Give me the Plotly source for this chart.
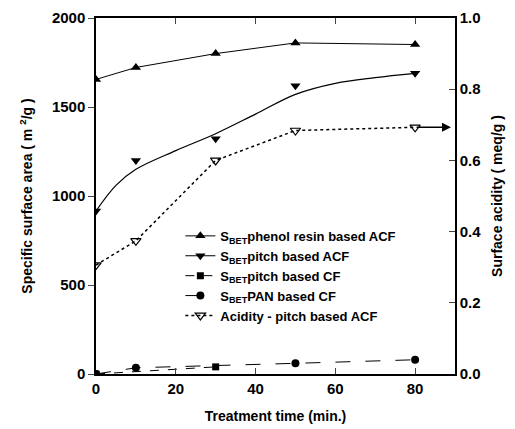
import plotly.graph_objects as go

# Data
phenol_x = [0, 10, 30, 50, 80]
phenol_y = [1655, 1722, 1800, 1860, 1851]

pitch_acf_x = [0, 10, 30, 50, 80]
pitch_acf_y = [916, 1199, 1322, 1620, 1689]
pitch_acf_fit_x = [0, 5, 10, 20, 30, 40, 50, 60, 70, 80]
pitch_acf_fit_y = [916, 1060, 1150, 1255, 1350, 1460, 1571, 1633, 1665, 1689]

pitch_cf_x = [0, 30]
pitch_cf_y = [0, 40]

pan_cf_x = [0, 10, 50, 80]
pan_cf_y = [0, 35, 60, 80]

acid_x = [0, 10, 30, 50, 80]
acid_y = [0.306, 0.374, 0.600, 0.684, 0.693]

x_ticks = [0, 20, 40, 60, 80]
y_ticks = [0, 500, 1000, 1500, 2000]
y2_ticks = [0.0, 0.2, 0.4, 0.6, 0.8, 1.0]
y2_labels = ["0.0", "0.2", "0.4", "0.6", "0.8", "1.0"]

FONT = "Liberation Sans, Arial, sans-serif"
BLACK = "black"

def b(s):
    return "<b>" + s + "</b>"

fig = go.Figure()

fig.add_trace(go.Scatter(
    x=phenol_x, y=phenol_y, mode="lines+markers",
    line=dict(color=BLACK, width=1),
    marker=dict(symbol="triangle-up", size=9, color=BLACK),
    name=b("S<sub>BET</sub>phenol resin based ACF")))

# pitch ACF: smooth fit line + markers
fig.add_trace(go.Scatter(
    x=pitch_acf_fit_x, y=pitch_acf_fit_y, mode="lines",
    line=dict(color=BLACK, width=1.2, shape="spline", smoothing=1.0), showlegend=False,
    hoverinfo="skip"))
fig.add_trace(go.Scatter(
    x=pitch_acf_x, y=pitch_acf_y, mode="markers",
    marker=dict(symbol="triangle-down", size=9, color=BLACK),
    showlegend=False))
fig.add_trace(go.Scatter(
    x=[None], y=[None], mode="lines+markers",
    line=dict(color=BLACK, width=1.2),
    marker=dict(symbol="triangle-down", size=9, color=BLACK),
    name=b("S<sub>BET</sub>pitch based ACF")))

fig.add_trace(go.Scatter(
    x=pitch_cf_x, y=pitch_cf_y, mode="lines+markers",
    line=dict(color=BLACK, width=1, dash="dash"),
    marker=dict(symbol="square", size=7, color=BLACK),
    name=b("S<sub>BET</sub>pitch based CF")))

fig.add_trace(go.Scatter(
    x=pan_cf_x, y=pan_cf_y, mode="lines+markers",
    line=dict(color=BLACK, width=1, dash="longdash"),
    marker=dict(symbol="circle", size=8, color=BLACK),
    name=b("S<sub>BET</sub>PAN based CF")))

fig.add_trace(go.Scatter(
    x=acid_x, y=acid_y, mode="lines+markers", yaxis="y2",
    line=dict(color=BLACK, width=1.5, dash="dot"),
    marker=dict(symbol="triangle-down-open", size=9, color=BLACK, line=dict(width=1.2)),
    name=b("Acidity - pitch based ACF")))

fig.add_annotation(
    x=89, y=acid_y[-1], xref="x", yref="y2",
    ax=acid_x[-1], ay=acid_y[-1], axref="x", ayref="y2",
    showarrow=True, arrowhead=2, arrowsize=1.2, arrowwidth=1.5,
    arrowcolor=BLACK, text="")

tickfont = dict(size=15, family=FONT, weight="bold")
titlefont = dict(size=14, family=FONT, weight="bold")

fig.update_layout(
    width=507, height=421,
    margin=dict(l=88, r=60, t=10, b=55),
    paper_bgcolor="white", plot_bgcolor="white",
    font=dict(family=FONT, size=13, color=BLACK),
    showlegend=True,
    legend=dict(x=0.235, y=0.43, xanchor="left", yanchor="top",
                bgcolor="rgba(0,0,0,0)", font=dict(size=13, family=FONT),
                tracegroupgap=0, itemwidth=30),
    xaxis=dict(range=[0, 90], tickvals=x_ticks, ticks="inside", ticklen=6,
               showline=True, linecolor=BLACK, linewidth=1.5, mirror="ticks",
               showgrid=False, zeroline=False, automargin=False,
               tickfont=tickfont,
               title=dict(text="Treatment time (min.)", font=titlefont, standoff=15)),
    yaxis=dict(range=[0, 2000], tickvals=y_ticks, ticks="outside", ticklen=6,
               showline=True, linecolor=BLACK, linewidth=1.5,
               showgrid=False, zeroline=False, automargin=False,
               tickfont=tickfont,
               title=dict(text="Specific surface area ( m <sup>2</sup>/g )", font=titlefont, standoff=16)),
    yaxis2=dict(range=[0, 1.0], tickvals=y2_ticks, ticktext=y2_labels,
                overlaying="y", side="right", ticks="inside", ticklen=6,
                showline=True, linecolor=BLACK, linewidth=1.5,
                showgrid=False, zeroline=False, automargin=False,
                tickfont=tickfont,
                title=dict(text="Surface acidity ( meq/g )", font=titlefont, standoff=12)),
)

fig.write_html("out.html")
